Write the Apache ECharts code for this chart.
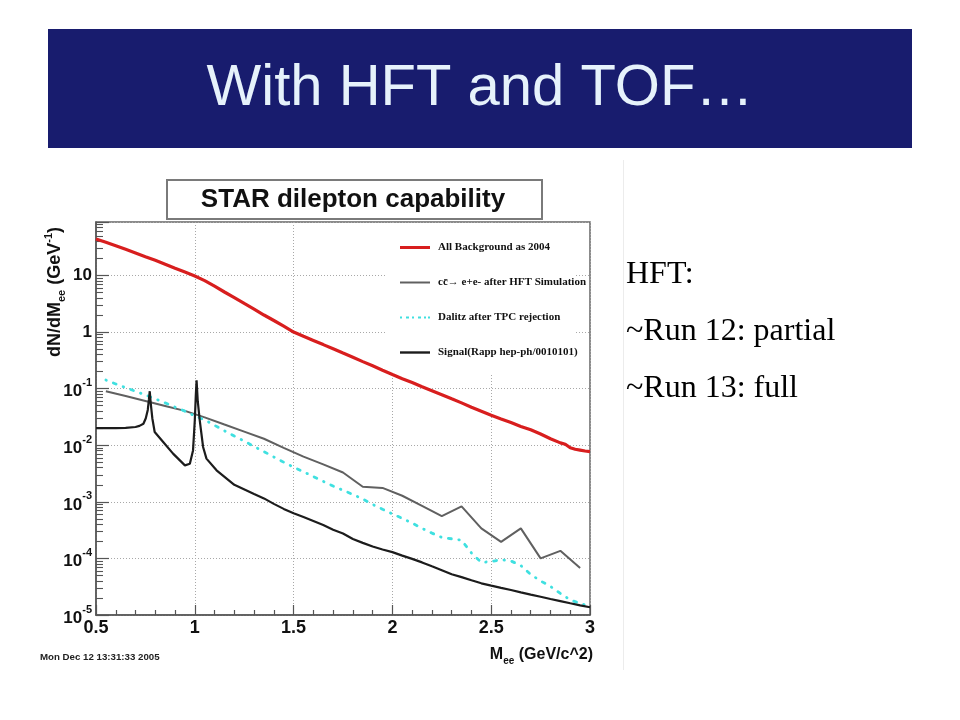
<!DOCTYPE html>
<html>
<head>
<meta charset="utf-8">
<script src="https://cdn.jsdelivr.net/npm/echarts@6/dist/echarts.min.js"></script>
<style>
html,body{margin:0;padding:0;background:#fff;}
#chart{width:960px;height:720px;}
</style>
</head>
<body>
<div id="chart"></div>
<script>
// ---- data ----
const seriesNames = ['All Background as 2004', 'c\u0063\u0304\u2192 e+e- after HFT Simulation', 'Dalitz after TPC rejection', 'Signal(Rapp hep-ph/0010101)'];

const massBg = [0.50,0.55,0.60,0.65,0.70,0.75,0.80,0.85,0.90,0.95,1.00,1.05,1.10,1.15,1.20,1.25,1.30,1.35,1.40,1.45,1.50,1.55,1.60,1.65,1.70,1.75,1.80,1.85,1.90,1.95,2.00,2.05,2.10,2.15,2.20,2.25,2.30,2.35,2.40,2.45,2.50,2.55,2.60,2.65,2.70,2.75,2.80,2.85,2.875,2.90,2.925,2.95,2.975,3.00];
const bgAll = [44,38.5,33.5,29,25,21.5,18.5,15.8,13.4,11.5,9.8,8.1,6.45,5.1,4.05,3.2,2.55,2.0,1.6,1.27,1.0,0.84,0.71,0.60,0.505,0.425,0.358,0.30,0.253,0.212,0.178,0.150,0.128,0.108,0.092,0.078,0.066,0.056,0.047,0.040,0.034,0.0292,0.0253,0.0215,0.0187,0.0158,0.0130,0.0110,0.0104,0.0090,0.0085,0.0082,0.0079,0.0077];

const massCC = [0.55,0.65,0.75,0.85,0.95,1.05,1.15,1.25,1.35,1.45,1.55,1.65,1.75,1.85,1.95,2.05,2.15,2.25,2.35,2.45,2.55,2.65,2.75,2.85,2.95];
const ccHFT = [0.090,0.074,0.0605,0.0495,0.0405,0.031,0.0232,0.0174,0.013,0.0090,0.0063,0.0046,0.0033,0.00185,0.00176,0.00128,0.00085,0.00056,0.00083,0.00034,0.000196,0.00034,0.0001,0.000136,0.000068];

const massDalitz = [0.55,0.60,0.65,0.70,0.75,0.80,0.85,0.90,0.95,1.00,1.05,1.10,1.15,1.20,1.25,1.30,1.35,1.40,1.45,1.50,1.55,1.60,1.65,1.70,1.75,1.80,1.85,1.90,1.95,2.00,2.05,2.10,2.15,2.20,2.25,2.30,2.35,2.40,2.45,2.50,2.55,2.60,2.65,2.70,2.75,2.80,2.85,2.90,2.95,3.00];
const dalitz = [0.142,0.121,0.104,0.090,0.077,0.066,0.056,0.047,0.040,0.033,0.028,0.0225,0.0180,0.0145,0.0118,0.0095,0.0077,0.0062,0.0050,0.0041,0.0034,0.0028,0.0023,0.0019,0.0016,0.00135,0.00112,0.00090,0.00074,0.00061,0.00051,0.00042,0.00034,0.00028,0.000235,0.000222,0.000210,0.000125,0.000085,0.000088,0.000095,0.000090,0.000075,0.000052,0.000040,0.000032,0.000024,0.0000185,0.0000160,0.0000142];

const massSig = [0.50,0.55,0.60,0.65,0.70,0.72,0.74,0.752,0.762,0.768,0.772,0.777,0.785,0.797,0.84,0.89,0.95,0.975,0.991,1.000,1.005,1.009,1.015,1.025,1.042,1.059,1.11,1.20,1.30,1.35,1.40,1.45,1.50,1.55,1.60,1.65,1.70,1.75,1.80,1.85,1.90,1.95,2.00,2.05,2.10,2.15,2.20,2.25,2.30,2.35,2.40,2.45,2.50,2.55,2.60,2.65,2.70,2.75,2.80,2.85,2.90,2.95,3.00];
const signal = [0.0200,0.0200,0.0200,0.0203,0.0210,0.0220,0.0240,0.030,0.042,0.065,0.090,0.055,0.030,0.0171,0.0114,0.0071,0.0044,0.0047,0.0081,0.0275,0.075,0.140,0.060,0.0275,0.0093,0.0058,0.0036,0.0020,0.00138,0.00115,0.00092,0.00075,0.00063,0.00054,0.00046,0.00039,0.00032,0.000275,0.00022,0.000188,0.000162,0.000144,0.000129,0.000112,0.000098,0.000085,0.0000725,0.000062,0.0000525,0.0000467,0.000041,0.0000363,0.0000331,0.0000302,0.0000276,0.0000251,0.0000229,0.000021,0.0000192,0.0000176,0.0000161,0.0000148,0.0000137];

const yDecades = [1e-5,1e-4,1e-3,1e-2,1e-1,1,10];
const minorMultipliers = [2,3,4,5,6,7,8,9];
const yMin = 1e-5, yMax = 88;

const sideLines = ['HFT:', '~Run 12: partial', '~Run 13: full'];

// ---- build ----
const pairs = (xs, ys) => xs.map((x, i) => [x, ys[i]]);
const yMinor = [];
yDecades.forEach(d => minorMultipliers.forEach(m => { const v = d * m; if (v < yMax) yMinor.push(v); }));

const SANS = '"Liberation Sans", Arial, sans-serif';
const SERIF = '"Liberation Serif", "Times New Roman", serif';
const AX = '#555';

const chart = echarts.init(document.getElementById('chart'), null, {renderer: 'canvas'});
chart.setOption({
  animation: false,
  backgroundColor: '#fff',
  grid: {left: 96, top: 222, width: 494, height: 393, show: true, borderColor: '#666', borderWidth: 1.5, backgroundColor: 'transparent'},
  xAxis: {
    type: 'value', min: 0.5, max: 3.0, interval: 0.5,
    axisLine: {show: true, onZero: false, lineStyle: {color: AX, width: 1.5}},
    axisTick: {show: true, inside: true, length: 10, lineStyle: {color: AX, width: 1.2}},
    minorTick: {show: true, splitNumber: 5, length: 5, lineStyle: {color: AX, width: 1.2}},
    splitLine: {show: true, lineStyle: {color: '#a8a8a8', width: 1, type: [1, 2]}},
    axisLabel: {color: '#111', fontFamily: SANS, fontWeight: 'bold', fontSize: 18, margin: 4, showMinLabel: true, showMaxLabel: true}
  },
  yAxis: [{
    type: 'log', logBase: 10, min: yMin, max: yMax,
    axisLine: {show: true, onZero: false, lineStyle: {color: AX, width: 1.5}},
    axisTick: {show: true, inside: true, length: 13, lineStyle: {color: AX, width: 1.2}},
    splitLine: {show: true, lineStyle: {color: '#a8a8a8', width: 1, type: [1, 2]}},
    axisLabel: {
      margin: 4,
      formatter: function (v) {
        const e = Math.log10(v);
        const r = Math.round(e);
        if (Math.abs(e - r) > 1e-6) return '';
        if (r === 0) return '{n|1}';
        if (r === 1) return '{n|10}';
        return '{m|10}{s|' + r + '}';
      },
      rich: {
        n: {fontFamily: SANS, fontWeight: 'bold', fontSize: 17, color: '#111', lineHeight: 22},
        m: {fontFamily: SANS, fontWeight: 'bold', fontSize: 17, color: '#111', lineHeight: 22, padding: [6, 0, 0, 0]},
        s: {fontFamily: SANS, fontWeight: 'bold', fontSize: 11, color: '#111', lineHeight: 11, verticalAlign: 'top'}
      }
    }
  }, {
    type: 'log', logBase: 10, min: yMin, max: yMax, position: 'left',
    axisLine: {show: false},
    axisLabel: {show: false},
    splitLine: {show: false},
    axisTick: {show: true, inside: true, length: 7, customValues: yMinor, lineStyle: {color: AX, width: 1.1}}
  }],
  legend: {
    orient: 'vertical', left: 395, top: 237, itemWidth: 30, itemHeight: 12, itemGap: 24,
    selectedMode: false, z: 6,
    textStyle: {fontFamily: SERIF, fontWeight: 'bold', fontSize: 11, color: '#111', padding: [0, 0, 0, 3]},
    data: [
      {name: seriesNames[0], icon: 'path://M0,0H30V3H0Z'},
      {name: seriesNames[1], icon: 'path://M0,0H30V2H0Z'},
      {name: seriesNames[2], icon: 'path://M0,0h2v2h-2zM6,0h3v2h-3zM12,0h2v2h-2zM18,0h3v2h-3zM24,0h2v2h-2zM28,0h2v2h-2z'},
      {name: seriesNames[3], icon: 'path://M0,0H30V2.4H0Z'}
    ]
  },
  graphic: [
    {type: 'rect', shape: {x: 48, y: 29, width: 864, height: 119}, style: {fill: '#181c6e'}},
    {type: 'text', x: 480, y: 89, style: {text: 'With HFT and TOF\u2026', fill: '#e6f2fb', font: '58px "Liberation Sans", Arial, sans-serif', textAlign: 'center', textVerticalAlign: 'middle'}},
    {type: 'line', shape: {x1: 623.5, y1: 160, x2: 623.5, y2: 670}, style: {stroke: '#ececec', lineWidth: 1}},
    {type: 'rect', z: 1, shape: {x: 386, y: 224, width: 189, height: 149}, style: {fill: '#fff'}},
    {type: 'rect', shape: {x: 167, y: 180, width: 375, height: 39}, style: {fill: '#fff', stroke: '#7a7a7a', lineWidth: 2}},
    {type: 'text', x: 353, y: 200, style: {text: 'STAR dilepton capability', fill: '#111', font: 'bold 26px "Liberation Sans", Arial, sans-serif', textAlign: 'center', textVerticalAlign: 'middle'}},
    {type: 'text', x: 55, y: 292, rotation: Math.PI / 2, style: {
      text: '{a|dN/dM}{b|ee}{a| (GeV}{c|-1}{a|)}', textAlign: 'center', textVerticalAlign: 'middle',
      rich: {
        a: {fontFamily: SANS, fontWeight: 'bold', fontSize: 18, fill: '#111', lineHeight: 24},
        b: {fontFamily: SANS, fontWeight: 'bold', fontSize: 11, fill: '#111', lineHeight: 11, verticalAlign: 'bottom'},
        c: {fontFamily: SANS, fontWeight: 'bold', fontSize: 11, fill: '#111', lineHeight: 11, verticalAlign: 'top'}
      }}},
    {type: 'text', x: 593, y: 655, style: {
      text: '{a|M}{b|ee}{a| (GeV/c^2)}', textAlign: 'right', textVerticalAlign: 'middle',
      rich: {
        a: {fontFamily: SANS, fontWeight: 'bold', fontSize: 16, fill: '#111', lineHeight: 22},
        b: {fontFamily: SANS, fontWeight: 'bold', fontSize: 10, fill: '#111', lineHeight: 10, verticalAlign: 'bottom'}
      }}},
    {type: 'text', x: 40, y: 657, style: {text: 'Mon Dec 12 13:31:33 2005', fill: '#222', font: 'bold 9.7px "Liberation Sans", Arial, sans-serif', textAlign: 'left', textVerticalAlign: 'middle'}},
    {type: 'text', x: 626, y: 275, style: {text: sideLines[0], fill: '#000', font: '32px "Liberation Serif", "Times New Roman", serif', textAlign: 'left', textVerticalAlign: 'middle'}},
    {type: 'text', x: 626, y: 332, style: {text: sideLines[1], fill: '#000', font: '32px "Liberation Serif", "Times New Roman", serif', textAlign: 'left', textVerticalAlign: 'middle'}},
    {type: 'text', x: 626, y: 389, style: {text: sideLines[2], fill: '#000', font: '32px "Liberation Serif", "Times New Roman", serif', textAlign: 'left', textVerticalAlign: 'middle'}}
  ],
  series: [
    {name: seriesNames[0], type: 'line', data: pairs(massBg, bgAll), showSymbol: false, symbol: 'none', z: 3,
      itemStyle: {color: '#d81e1e'}, lineStyle: {color: '#d81e1e', width: 3.2}},
    {name: seriesNames[1], type: 'line', data: pairs(massCC, ccHFT), showSymbol: false, symbol: 'none', z: 3,
      itemStyle: {color: '#606060'}, lineStyle: {color: '#606060', width: 2}},
    {name: seriesNames[2], type: 'line', data: pairs(massDalitz, dalitz), showSymbol: false, symbol: 'none', z: 3,
      itemStyle: {color: '#3fe0e0'}, lineStyle: {color: '#3fe0e0', width: 2.8, cap: 'round', type: [0.5, 7.5, 3, 7.5]}},
    {name: seriesNames[3], type: 'line', data: pairs(massSig, signal), showSymbol: false, symbol: 'none', z: 4,
      itemStyle: {color: '#1c1c1c'}, lineStyle: {color: '#1c1c1c', width: 2.2}}
  ]
});
</script>
</body>
</html>
